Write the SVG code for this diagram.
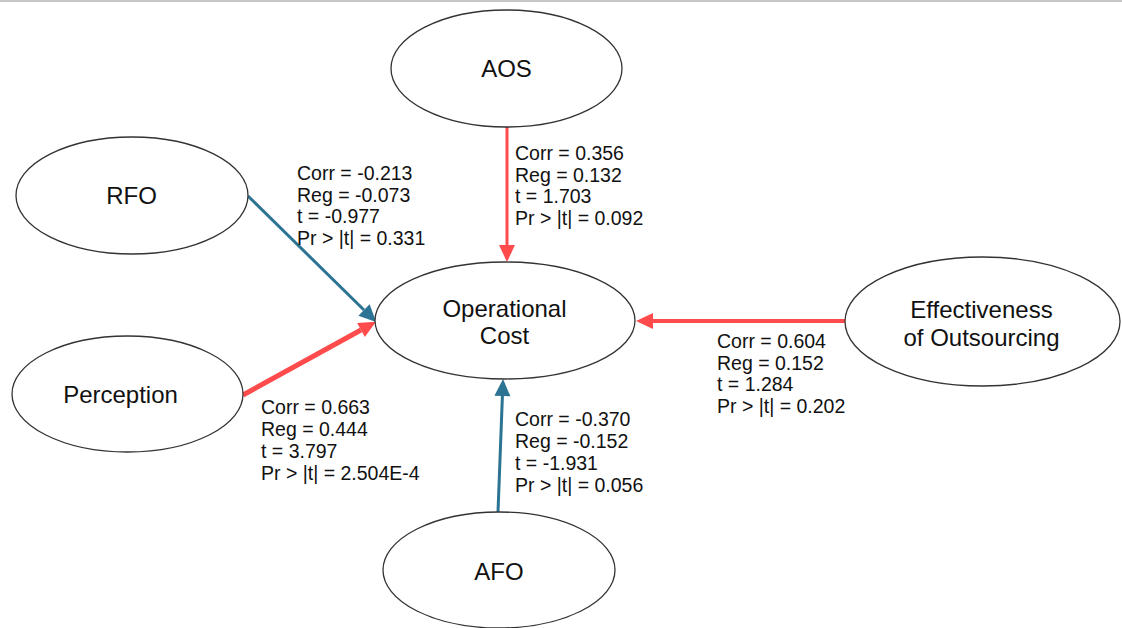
<svg xmlns="http://www.w3.org/2000/svg" width="1122" height="628" viewBox="0 0 1122 628">
  <style>
    .node ellipse { fill: #ffffff; stroke: #333333; stroke-width: 1.3; }
    .label { font-family: "Liberation Sans", Arial, sans-serif; font-size: 24px; fill: #111111; text-anchor: middle; }
    .stats { font-family: "Liberation Sans", Arial, sans-serif; font-size: 19.5px; fill: #111111; }
    .pos { stroke: #ff4b4b; fill: none; }
    .neg { stroke: #2c7394; fill: none; }
  </style>
  <defs>
    <marker id="head-pos" markerUnits="userSpaceOnUse" markerWidth="17" markerHeight="16" refX="0" refY="8" orient="auto" overflow="visible">
      <path d="M0,0 L17,8 L0,16 z" fill="#ff4b4b"/>
    </marker>
    <marker id="head-neg" markerUnits="userSpaceOnUse" markerWidth="17" markerHeight="16" refX="0" refY="8" orient="auto" overflow="visible">
      <path d="M0,0 L17,8 L0,16 z" fill="#2c7394"/>
    </marker>
  </defs>

  <rect x="0" y="0" width="1122" height="628" fill="#ffffff"/>
  <rect x="0" y="0" width="1122" height="2" fill="#c8c8c8"/>

  <!-- connectors -->
  <g id="connectors">
    <line class="pos" x1="507" y1="127" x2="507" y2="245" stroke-width="3" marker-end="url(#head-pos)"/>
    <line class="neg" x1="248" y1="196" x2="364" y2="310" stroke-width="3" marker-end="url(#head-neg)"/>
    <line class="pos" x1="243" y1="395" x2="361" y2="330" stroke-width="5" marker-end="url(#head-pos)"/>
    <line class="pos" x1="845" y1="321" x2="653" y2="321" stroke-width="4" marker-end="url(#head-pos)"/>
    <line class="neg" x1="498" y1="512" x2="502.4" y2="396" stroke-width="3" marker-end="url(#head-neg)"/>
  </g>

  <!-- nodes -->
  <g id="node-aos" class="node">
    <ellipse cx="506.5" cy="68.5" rx="115.5" ry="58.5"/>
    <text class="label" x="506.5" y="77">AOS</text>
  </g>
  <g id="node-rfo" class="node">
    <ellipse cx="132" cy="195.5" rx="116" ry="58.5"/>
    <text class="label" x="131.5" y="204">RFO</text>
  </g>
  <g id="node-perception" class="node">
    <ellipse cx="127.5" cy="394" rx="115.5" ry="58"/>
    <text class="label" x="120.5" y="402.5">Perception</text>
  </g>
  <g id="node-opcost" class="node">
    <ellipse cx="505" cy="320.5" rx="130" ry="58.5"/>
    <text class="label" x="504.5" y="316.5">Operational</text>
    <text class="label" x="504.5" y="343.5">Cost</text>
  </g>
  <g id="node-effectiveness" class="node">
    <ellipse cx="982.5" cy="321.5" rx="137.5" ry="64.5"/>
    <text class="label" x="981.5" y="317.5">Effectiveness</text>
    <text class="label" x="981.5" y="345.5">of Outsourcing</text>
  </g>
  <g id="node-afo" class="node">
    <ellipse cx="499" cy="570" rx="116" ry="58"/>
    <text class="label" x="499" y="579.5">AFO</text>
  </g>

  <!-- path statistics -->
  <g id="stats-rfo" class="stats">
    <text x="297" y="180">Corr = -0.213</text>
    <text x="297" y="202">Reg = -0.073</text>
    <text x="297" y="223">t = -0.977</text>
    <text x="297" y="245">Pr &gt; |t| = 0.331</text>
  </g>
  <g id="stats-aos" class="stats">
    <text x="515" y="160">Corr = 0.356</text>
    <text x="515" y="182">Reg = 0.132</text>
    <text x="515" y="203">t = 1.703</text>
    <text x="515" y="225">Pr &gt; |t| = 0.092</text>
  </g>
  <g id="stats-perception" class="stats">
    <text x="261" y="414">Corr = 0.663</text>
    <text x="261" y="436">Reg = 0.444</text>
    <text x="261" y="458">t = 3.797</text>
    <text x="261" y="480">Pr &gt; |t| = 2.504E-4</text>
  </g>
  <g id="stats-afo" class="stats">
    <text x="515" y="426">Corr = -0.370</text>
    <text x="515" y="448">Reg = -0.152</text>
    <text x="515" y="470">t = -1.931</text>
    <text x="515" y="492">Pr &gt; |t| = 0.056</text>
  </g>
  <g id="stats-effectiveness" class="stats">
    <text x="717" y="348">Corr = 0.604</text>
    <text x="717" y="370">Reg = 0.152</text>
    <text x="717" y="391">t = 1.284</text>
    <text x="717" y="413">Pr &gt; |t| = 0.202</text>
  </g>
</svg>
